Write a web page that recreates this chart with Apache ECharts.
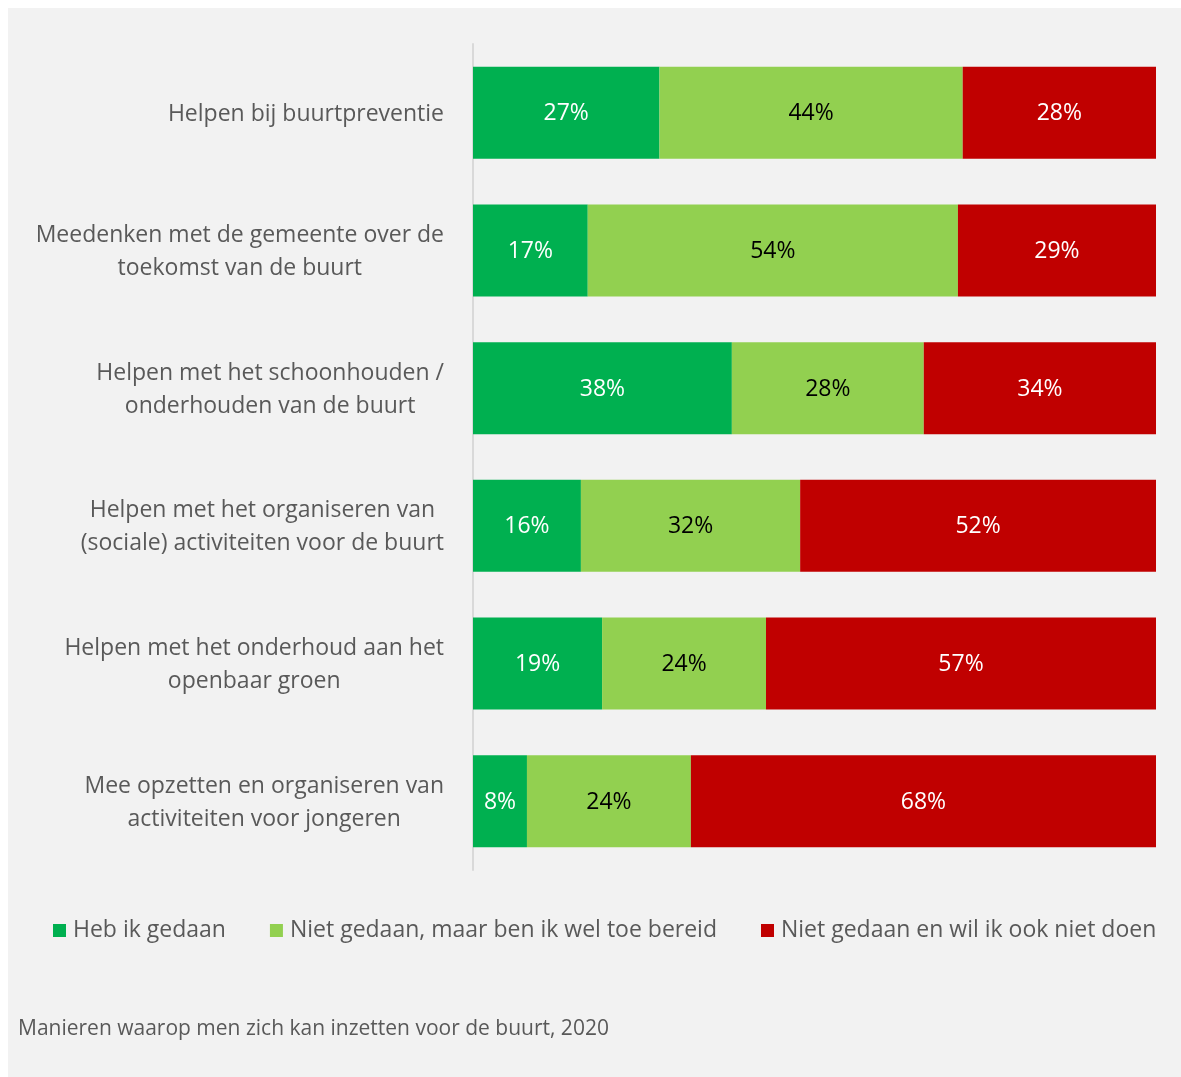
<!DOCTYPE html>
<html>
<head>
<meta charset="utf-8">
<script src="https://cdn.jsdelivr.net/npm/echarts@6/dist/echarts.min.js"></script>
<style>
  html, body { margin: 0; padding: 0; background: #ffffff; }
  #chart { position: absolute; left: 8px; top: 8px; width: 1173px; height: 1069px; }
</style>
</head>
<body>
<div id="chart"></div>
<script>
const categories = [
  'Helpen bij buurtpreventie',
  'Meedenken met de gemeente over de\ntoekomst van de buurt',
  'Helpen met het schoonhouden /\nonderhouden van de buurt',
  'Helpen met het organiseren van\n(sociale) activiteiten voor de buurt',
  'Helpen met het onderhoud aan het\nopenbaar groen',
  'Mee opzetten en organiseren van\nactiviteiten voor jongeren'
];
const seriesNames = [
  'Heb ik gedaan',
  'Niet gedaan, maar ben ik wel toe bereid',
  'Niet gedaan en wil ik ook niet doen'
];
const hebGedaan = [27.3, 16.8, 37.9, 15.8, 18.9, 7.9];
const welBereid = [44.4, 54.2, 28.1, 32.1, 24.0, 24.0];
const nietDoen = [28.3, 29.0, 34.0, 52.1, 57.1, 68.1];
const caption = 'Manieren waarop men zich kan inzetten voor de buurt, 2020';

const FONT = '"Open Sans", "Noto Sans", sans-serif';
const colors = ['#00b050', '#92d050', '#c00000'];
const labelColors = ['#ffffff', '#000000', '#ffffff'];
const values = [hebGedaan, welBereid, nietDoen];

const chart = echarts.init(document.getElementById('chart'));
chart.setOption({
  backgroundColor: '#f2f2f2',
  animation: false,
  grid: { left: 465, right: 25, top: 36, bottom: 207, containLabel: false },
  xAxis: {
    type: 'value', min: 0, max: 100,
    show: false
  },
  yAxis: {
    type: 'category',
    data: categories,
    inverse: true,
    axisLine: { show: true, lineStyle: { color: '#d9d9d9', width: 2 } },
    axisTick: { show: false },
    splitLine: { show: false },
    axisLabel: {
      margin: 29,
      color: '#595959',
      fontFamily: FONT,
      fontSize: 23,
      lineHeight: 33,
      padding: [3, 0, 0, 0],
      formatter: function (v) {
        return v.split('\n').map(function (s) { return '{c|' + s + '}'; }).join('\n');
      },
      rich: {
        c: { align: 'center', color: '#595959', fontFamily: FONT, fontSize: 23, lineHeight: 33 }
      }
    }
  },
  legend: {
    data: seriesNames,
    left: 40,
    top: 906,
    itemWidth: 13,
    itemHeight: 13,
    itemGap: 44,
    icon: 'rect',
    textStyle: { color: '#595959', fontFamily: FONT, fontSize: 23, padding: [0, 0, 0, 2] }
  },
  graphic: [{
    type: 'text',
    left: 10,
    top: 1011,
    style: { text: caption, fill: '#595959', font: '21px ' + FONT }
  }],
  series: seriesNames.map(function (name, i) {
    return {
      name: name,
      type: 'bar',
      stack: 'total',
      barWidth: 92,
      data: values[i],
      itemStyle: { color: colors[i] },
      label: {
        show: true,
        position: 'inside',
        offset: [0, 1],
        color: labelColors[i],
        fontFamily: FONT,
        fontSize: 23,
        formatter: function (p) { return Math.round(p.value) + '%'; }
      }
    };
  })
});
</script>
</body>
</html>
